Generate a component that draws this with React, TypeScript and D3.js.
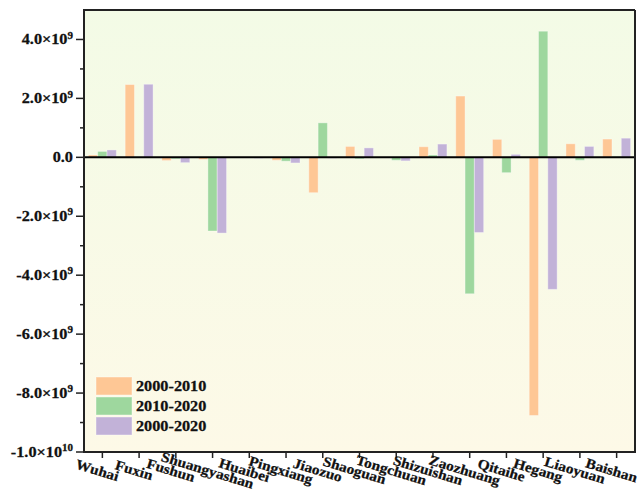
import * as d3 from "d3";

const categories = [
  "Wuhai", "Fuxin", "Fushun", "Shuangyashan", "Huaibei", "Pingxiang", "Jiaozuo",
  "Shaoguan", "Tongchuan", "Shizuishan", "Zaozhuang", "Qitaihe", "Hegang", "Liaoyuan", "Baishan"
];
const seriesNames = ["2000-2010", "2010-2020", "2000-2020"];
const colors = ["#fec795", "#9ed79e", "#c2b2d8"];

// values (units of 1e9)
const v2000_2010 = [0.08, 2.47, -0.11, -0.07, -0.01, -0.10, -1.20, 0.37, -0.02, 0.36, 2.08, 0.61, -8.76, 0.46, 0.62];
const v2010_2020 = [0.20, 0.01, -0.05, -2.50, -0.02, -0.13, 1.17, -0.05, -0.10, 0.08, -4.63, -0.52, 4.28, -0.10, 0.03];
const v2000_2020 = [0.25, 2.48, -0.18, -2.57, -0.03, -0.19, -0.03, 0.32, -0.12, 0.45, -2.55, 0.10, -4.48, 0.37, 0.65];

const yTickValues = [-1e10, -8e9, -6e9, -4e9, -2e9, 0, 2e9, 4e9];
const yTickMantissas = ["-1.0", "-8.0", "-6.0", "-4.0", "-2.0", "0.0", "2.0", "4.0"];
const yTickExponents = ["10", "9", "9", "9", "9", "", "9", "9"];
const yMinorTicks = [-9e9, -7e9, -5e9, -3e9, -1e9, 1e9, 3e9];

export default function App() {
  const width = 638;
  const height = 493;
  const left = 84;
  const right = 635;
  const top = 10;
  const bottom = 452;
  const font = "'Liberation Serif', 'Times New Roman', serif";

  const x = d3.scaleBand<string>()
    .domain(categories)
    .range([left, right])
    .paddingInner(0.24)
    .paddingOuter(0.12);

  const x1 = d3.scaleBand<string>()
    .domain(seriesNames)
    .range([0, x.bandwidth()]);

  const y = d3.scaleLinear().domain([-1e10, 5e9]).range([bottom, top]);

  const series = [v2000_2010, v2010_2020, v2000_2020];

  return (
    <svg width={width} height={height} style={{ position: "absolute", left: 0, top: 0 }}>
      <defs>
        <linearGradient id="bg" x1="0" y1="0" x2="0" y2="1">
          <stop offset="0%" stopColor="#f3fbe6" />
          <stop offset="100%" stopColor="#fdf9e7" />
        </linearGradient>
      </defs>
      <rect x={left} y={top} width={right - left} height={bottom - top} fill="url(#bg)" />

      {/* bars */}
      {series.map((vals, si) => (
        <g key={si} fill={colors[si]}>
          {categories.map((c, i) => {
            const v = vals[i] * 1e9;
            return (
              <rect
                key={c}
                x={(x(c) ?? 0) + (x1(seriesNames[si]) ?? 0)}
                y={y(Math.max(0, v))}
                width={x1.bandwidth()}
                height={Math.abs(y(v) - y(0))}
                stroke="#ffffff"
                strokeOpacity={0.35}
                strokeWidth={1}
              />
            );
          })}
        </g>
      ))}

      {/* zero line */}
      <line x1={left} x2={right} y1={y(0)} y2={y(0)} stroke="#000" strokeWidth={2} />

      {/* frame */}
      <line x1={left} x2={right} y1={top} y2={top} stroke="#222" strokeWidth={2} />
      <line x1={right} x2={right} y1={top} y2={bottom} stroke="#222" strokeWidth={2} />
      <line x1={left} x2={left} y1={top - 1} y2={bottom + 1} stroke="#222" strokeWidth={2} />
      <line x1={left - 1} x2={right + 1} y1={bottom} y2={bottom} stroke="#222" strokeWidth={2} />

      {/* y axis */}
      <g fontFamily={font} fontWeight="bold" fontSize={14} fill="#111" stroke="#111" strokeWidth={0.25}>
        {yTickValues.map((t, i) => (
          <g key={t}>
            <line x1={left - 8} x2={left} y1={y(t)} y2={y(t)} stroke="#222" strokeWidth={1.5} />
            <g transform={`translate(73,${y(t)}) scale(1.16,1)`}>
              <text textAnchor="end" dy="0.35em">
                {yTickMantissas[i]}
                {yTickExponents[i] && (
                  <>
                    <tspan>×10</tspan>
                    <tspan fontSize={9.5} dy="-0.6em">{yTickExponents[i]}</tspan>
                  </>
                )}
              </text>
            </g>
          </g>
        ))}
        {yMinorTicks.map(t => (
          <line key={t} x1={left - 4} x2={left} y1={y(t)} y2={y(t)} stroke="#222" strokeWidth={1.5} />
        ))}
      </g>

      {/* x axis */}
      <g fontFamily={font} fontWeight="bold" fontSize={14} fill="#111" stroke="#111" strokeWidth={0.25}>
        {categories.map(c => {
          const cx = (x(c) ?? 0) + x.bandwidth() / 2;
          return (
            <g key={c}>
              <line x1={cx} x2={cx} y1={bottom} y2={bottom + 6} stroke="#222" strokeWidth={1.5} />
              <g transform={`translate(${cx - 5},${bottom + 18}) rotate(17) scale(1.1,1)`}>
                <text textAnchor="middle" dy="0.35em">{c}</text>
              </g>
            </g>
          );
        })}
      </g>

      {/* legend */}
      <g fontFamily={font} fontWeight="bold" fontSize={14} fill="#111">
        {seriesNames.map((s, i) => (
          <g key={s} transform={`translate(96,${377 + i * 20})`}>
            <rect width={36} height={18} fill={colors[i]} stroke="#ffffff" strokeOpacity={0.4} />
            <g transform="translate(40,9) scale(1.16,1)">
              <text dy="0.35em" stroke="#111" strokeWidth={0.25}>{s}</text>
            </g>
          </g>
        ))}
      </g>
    </svg>
  );
}
